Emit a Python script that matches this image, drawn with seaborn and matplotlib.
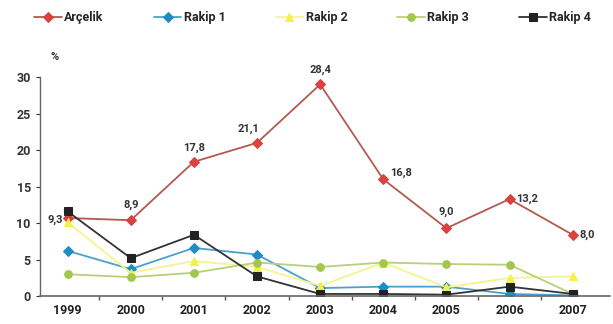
import matplotlib
matplotlib.use("Agg")
import matplotlib.pyplot as plt
import seaborn as sns
import pandas as pd
import numpy as np

years = ["1999", "2000", "2001", "2002", "2003", "2004", "2005", "2006", "2007"]
arcelik = [10.7, 10.4, 18.4, 21.0, 29.0, 16.0, 9.3, 13.3, 8.4]
arcelik_labels = ["9,3", "8,9", "17,8", "21,1", "28,4", "16,8", "9,0", "13,2", "8,0"]
rakip1 = [6.2, 3.7, 6.6, 5.7, 1.1, 1.3, 1.3, 0.3, 0.1]
rakip2 = [10.1, 3.2, 4.8, 4.0, 1.4, 4.6, 1.2, 2.5, 2.7]
rakip3 = [3.0, 2.6, 3.2, 4.6, 4.0, 4.6, 4.4, 4.3, 0.3]
rakip4 = [11.6, 5.2, 8.4, 2.7, 0.3, 0.3, 0.2, 1.3, 0.3]
series_names = ["Arçelik", "Rakip 1", "Rakip 2", "Rakip 3", "Rakip 4"]

sns.set_theme(style="white")
plt.rcParams["font.family"] = ["Roboto", "DejaVu Sans"]

fig = plt.figure(figsize=(6.13, 3.24), dpi=100)
ax = fig.add_axes([0.065, 0.086, 0.93, 0.676])

x = np.arange(len(years))
styles = [
    (arcelik, "#d8423f", "#b35a50", "D", 5.5),
    (rakip1, "#1f8cc4", "#4ea0cc", "D", 5.5),
    (rakip2, "#f2f24a", "#f4f490", "^", 6),
    (rakip3, "#a3c64c", "#b8d07a", "o", 5.5),
    (rakip4, "#222222", "#333333", "s", 5.5),
]
for (vals, mcol, lcol, mk, ms), name in zip(styles, series_names):
    df = pd.DataFrame({"x": x, "y": vals})
    sns.lineplot(data=df, x="x", y="y", ax=ax, color=lcol, lw=1.3,
                 marker=mk, markersize=ms, markerfacecolor=mcol,
                 markeredgecolor=mcol, label=name, legend=False)

# data labels for Arçelik
offsets = [(-3, -1, "right", "center"), (0, 7, "center", "bottom"),
           (0, 6, "center", "bottom"), (2, 6, "right", "bottom"),
           (0, 7, "center", "bottom"), (5, 1, "left", "bottom"),
           (0, 8, "center", "bottom"), (5, 0, "left", "center"),
           (5, 0, "left", "center")]
for xi, v, lab, (dx, dy, ha, va) in zip(x, arcelik, arcelik_labels, offsets):
    ax.annotate(lab, (xi, v), xytext=(dx, dy), textcoords="offset points",
                ha=ha, va=va, fontsize=8, fontweight="bold", color="#333333")

ax.set_xlim(-0.44, 8.59)
ax.set_ylim(0, 30)
ax.set_xticks(x)
ax.set_xticklabels(years, fontsize=9, fontweight="bold", color="#222222")
ax.set_xticks(x[:-1] + 0.5, minor=True)
ax.set_yticks([0, 5, 10, 15, 20, 25, 30])
ax.tick_params(axis="y", labelsize=9, colors="#333333", length=3, left=True, width=0.8)
ax.tick_params(axis="x", which="major", length=0, pad=6)
ax.tick_params(axis="x", which="minor", length=3, bottom=True, color="#555555")
for lab in ax.get_yticklabels():
    lab.set_fontweight("bold")
ax.set_xlabel("")
ax.set_ylabel("")
for s in ["top", "right"]:
    ax.spines[s].set_visible(False)
ax.spines["left"].set_color("#666666")
ax.spines["bottom"].set_color("#666666")
ax.spines["left"].set_linewidth(1.0)
ax.spines["bottom"].set_linewidth(1.2)

fig.text(0.082, 0.815, "%", fontsize=8, fontweight="bold", color="#333333")

h, l = ax.get_legend_handles_labels()
fig.legend(h, l, loc="upper center", bbox_to_anchor=(0.51, 1.0), ncol=5,
           frameon=False, prop={"weight": "bold", "size": 9},
           handlelength=2.2, handletextpad=0.2, columnspacing=4.0)

fig.savefig("out.png", dpi=100)
